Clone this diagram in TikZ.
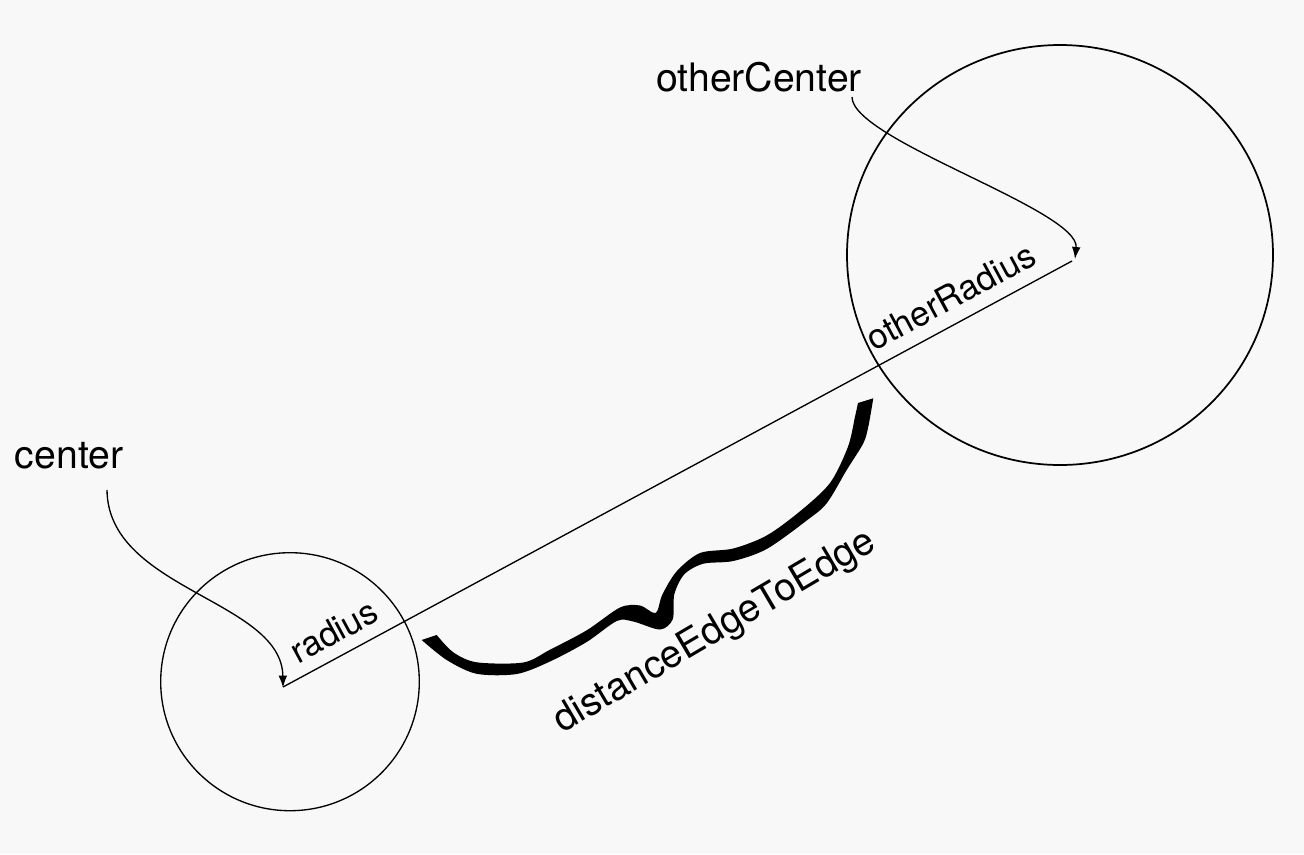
\documentclass[tikz,border=0pt]{standalone}
\usepackage{fontspec}
\setmainfont{TeX Gyre Heros}
\usetikzlibrary{arrows.meta}
\definecolor{bg}{RGB}{248,248,248}
\tikzset{
  lbl/.style={inner sep=0pt, text=black},
  biglbl/.style={lbl, font=\fontsize{29.4pt}{29.4pt}\selectfont},
  radlbl/.style={lbl, font=\fontsize{26pt}{26pt}\selectfont, anchor=base, rotate=28.4},
  thinline/.style={line width=1pt},
  ptr/.style={line width=1pt, -{Latex[length=9pt,width=6.5pt]}}
}
\begin{document}
\begin{tikzpicture}[x=0.75pt,y=-0.75pt]
\useasboundingbox (0,0) rectangle (1304,854);
\fill[bg] (0,0) rectangle (1304,854);

% circles
\draw[thinline] (290,681.7) ellipse [x radius=129.3, y radius=129];
\draw[line width=1.3pt] (1060,255) ellipse [x radius=213, y radius=210];

% centre points
\coordinate (c) at (283,687);
\coordinate (oc) at (1072,261);
\draw[thinline] (c) -- (oc);

% labels
\node[biglbl, anchor=base] (centerlbl) at (69,468) {center};
\node[biglbl, anchor=base] (otherlbl) at (759,91.7) {otherCenter};
\node[radlbl] (radlbl) at (339.5,642) {radius};
\node[radlbl] (oradlbl) at (956.5,307.5) {otherRadius};
\node[lbl, font=\fontsize{29pt}{29pt}\selectfont, anchor=base, rotate=30.5] (distlbl) at (720,641) {distanceEdgeToEdge};

% pointer curves
\coordinate (cs) at (107,490);
\coordinate (os) at (852,97);
\draw[ptr] (cs) .. controls (108,590) and (282,600) .. ([yshift=-0.5]c);
\draw[ptr] (os) .. controls (852,140) and (1080,210) .. (1075,259);

% thick hand-drawn brace
\fill[black] plot[smooth, tension=0.5] coordinates {
 (436.7,635) (453.3,652.3) (476.7,662.3) (523.3,662.5) (550,649.7)
 (586.7,630.3) (620,607.5) (640,605.5) (655.7,613) (662.3,594.7)
 (676.7,571.3) (700,553) (733.3,548.5) (766.7,535.5) (800,511.3)
 (830,483) (848,446.7) (855,416.7) (858,403)}
 -- (873.3,398.3)
 -- plot[smooth, tension=0.5] coordinates {
 (873.3,398.3) (868.3,426.7) (863.3,443.3) (846.7,470) (826.7,503.3)
 (806.7,520.5) (766.7,549) (733.3,561) (703.3,563.7) (684.3,574.3)
 (674.3,594.3) (672.7,619.3) (660,629.5) (633.3,621.5) (616.7,621)
 (586.7,642) (550,661.5) (516.7,674) (476.7,673.8) (446.7,660) (421.7,640)}
 -- cycle;
\end{tikzpicture}
\end{document}
